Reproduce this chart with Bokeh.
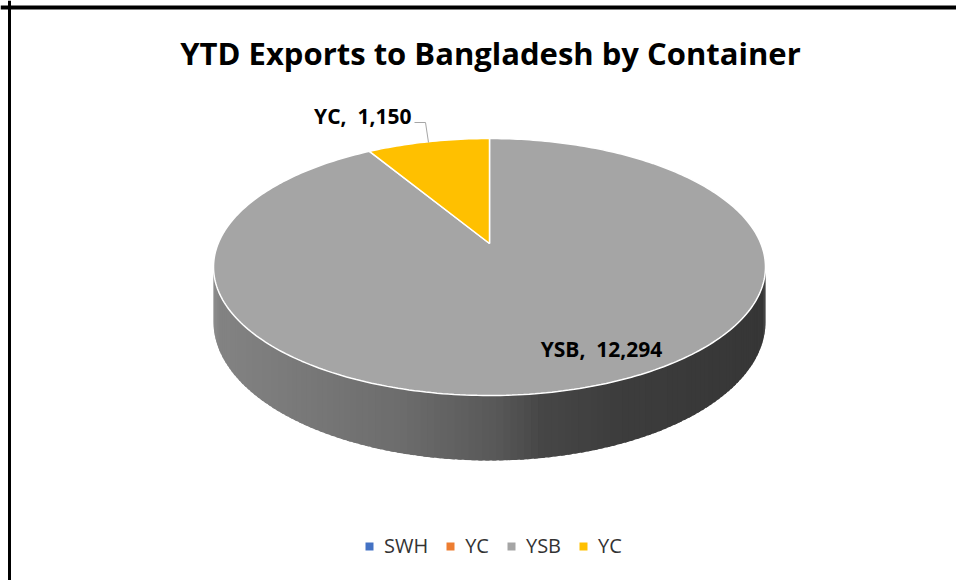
import math
from bokeh.plotting import figure
from bokeh.models import Range1d, Span, Legend, LegendItem
from bokeh.core.properties import value
from bokeh.embed import file_html
from bokeh.resources import INLINE

# ---- data ----
title_text = "YTD Exports to Bangladesh by Container"
categories = ["SWH", "YC", "YSB", "YC"]
values = [0, 0, 12294, 1150]
colors = ["#4472C4", "#ED7D31", "#A5A5A5", "#FFC000"]

# ---- layout (pixel space, y downwards) ----
W, H = 956, 580
CX, CY = 489, 243          # projected pie centre
D, A, B, T0 = 5.468, 679.1, 1483.6, 65.0   # perspective parameters
label_layout = {2: (601, 348, "center", None),
                3: (411, 115, "right", ((414, 122), (425, 122), (428, 142)))}

FONT = "Open Sans"


def proj(theta, r=1.0, h=0.0):
    u = r * math.sin(theta)
    v = r * math.cos(theta)
    z = D + v
    x = CX + B * u / z
    y = CY - A * v / z + h * T0 * (D - 1) / z
    return x, y


def side_factor(x):
    pts = [(213, 0.80), (400, 0.66), (500, 0.53), (540, 0.43), (620, 0.37), (765, 0.33)]
    if x <= pts[0][0]:
        return pts[0][1]
    for (x0, f0), (x1, f1) in zip(pts, pts[1:]):
        if x <= x1:
            t = (x - x0) / (x1 - x0)
            return f0 + t * (f1 - f0)
    return pts[-1][1]


def shade(hexc, f):
    r = int(hexc[1:3], 16); g = int(hexc[3:5], 16); b = int(hexc[5:7], 16)
    return "#%02x%02x%02x" % (int(r * f), int(g * f), int(b * f))


p = figure(width=W, height=H, x_range=Range1d(0, W), y_range=Range1d(H, 0),
           output_backend="svg", toolbar_location=None, min_border=0,
           outline_line_color=None, background_fill_color="white",
           border_fill_color="white")
p.axis.visible = False
p.grid.visible = False

total = float(sum(values))
starts, ends = [], []
acc = 0.0
for v in values:
    starts.append(2 * math.pi * acc / total)
    acc += v
    ends.append(2 * math.pi * acc / total)

# visible front side range (silhouette tangent points)
vis0 = math.acos(-1.0 / D)
vis1 = 2 * math.pi - vis0

# side walls
for i, v in enumerate(values):
    if v <= 0:
        continue
    a0 = max(starts[i], vis0)
    a1 = min(ends[i], vis1)
    if a1 <= a0:
        continue
    n = max(2, int((a1 - a0) / (2 * math.pi) * 300))
    step = (a1 - a0) / n
    for k in range(n):
        t0 = a0 + step * k
        t1 = min(a1, t0 + step * 1.6)
        p0 = proj(t0); p1 = proj(t1)
        q1 = proj(t1, h=1); q0 = proj(t0, h=1)
        c = shade(colors[i], side_factor((p0[0] + proj(t0 + step)[0]) / 2))
        p.patch(x=[p0[0], p1[0], q1[0], q0[0]], y=[p0[1], p1[1], q1[1], q0[1]],
                fill_color=c, line_color=None)

# top faces
for i, v in enumerate(values):
    if v <= 0:
        continue
    n = max(4, int((ends[i] - starts[i]) / (2 * math.pi) * 360))
    xs = [CX]; ys = [CY]
    for k in range(n + 1):
        t = starts[i] + (ends[i] - starts[i]) * k / n
        x, y = proj(t)
        xs.append(x); ys.append(y)
    p.patch(x=xs, y=ys, fill_color=colors[i], line_color="white", line_width=1.5)

# data labels
for i, v in enumerate(values):
    if v <= 0 or i not in label_layout:
        continue
    lx, ly, align, leader = label_layout[i]
    if leader:
        p.line(x=[q[0] for q in leader], y=[q[1] for q in leader], line_color="#A6A6A6", line_width=1)
    p.text(x=[lx], y=[ly], text=[f"{categories[i]},\u00a0 {v:,}"], text_align=align,
           text_baseline="middle", text_font=value(FONT), text_font_style="bold",
           text_font_size="21px", text_color="#000000")

# title
p.text(x=[490], y=[52], text=[title_text], text_align="center", text_baseline="middle",
       text_font=value(FONT), text_font_style="bold", text_font_size="31px", text_color="#000000")

# border of chart area (top and left visible)
p.add_layout(Span(location=7, dimension="width", line_color="black", line_width=4))
p.add_layout(Span(location=9, dimension="height", line_color="black", line_width=3))

# legend
items = []
for cat, col in zip(categories, colors):
    r = p.quad(left=[CX], right=[CX], top=[CY], bottom=[CY], fill_color=col, line_color=None)
    items.append(LegendItem(label=cat, renderers=[r]))
legend = Legend(items=items, orientation="horizontal", location=(364, 21),
                glyph_width=10, glyph_height=10, label_standoff=10, spacing=17,
                padding=0, margin=0, border_line_color=None, background_fill_alpha=0,
                label_text_font=FONT, label_text_font_size="20px", label_text_color="#333333")
p.add_layout(legend, "center")

open("out.html", "w").write(file_html(p, INLINE))
